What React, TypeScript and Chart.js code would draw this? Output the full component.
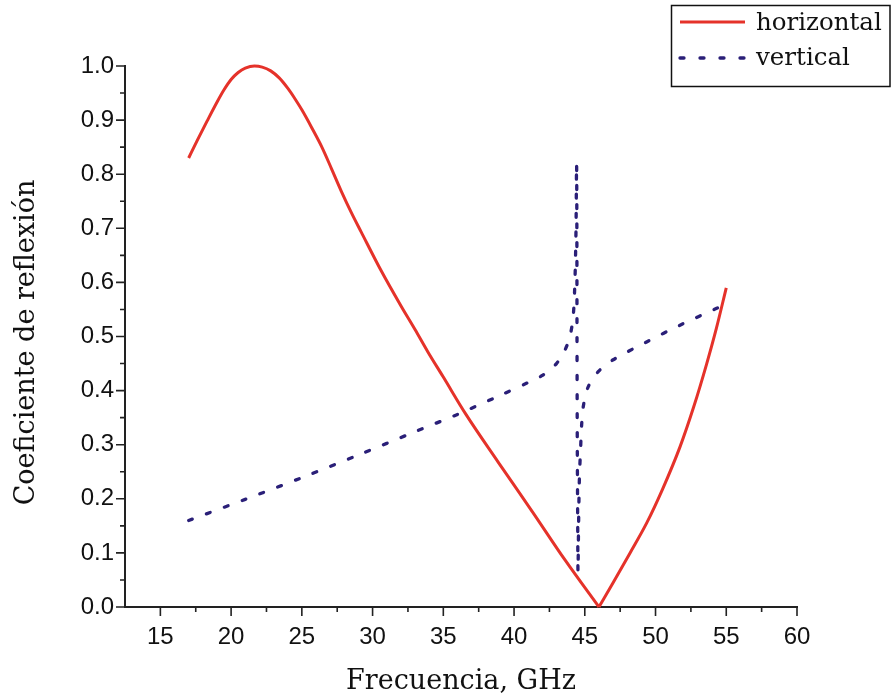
import React, { useEffect, useRef } from "react";
import { Chart, registerables } from "chart.js";

Chart.register(...registerables);

// ---- Data ----
const horizontalFreq = [17, 17.6, 18.3, 19.0, 19.5, 20.0, 20.5, 21.0, 21.65, 22.2, 22.8, 23.4, 24.0, 24.5, 25.0, 25.7, 26.4, 27.1, 27.8, 28.5, 29.2, 30.6, 32.0, 33.0, 33.9, 35.0, 36.6, 38.9, 41.3, 43.6, 46.0, 47.0, 48.2, 49.37, 50.5, 51.73, 52.7, 53.62, 54.3, 55];
const horizontalCoef = [0.83, 0.862, 0.898, 0.933, 0.956, 0.975, 0.988, 0.996, 1.0, 0.998, 0.991, 0.978, 0.959, 0.94, 0.919, 0.886, 0.851, 0.81, 0.768, 0.729, 0.693, 0.622, 0.557, 0.513, 0.472, 0.425, 0.356, 0.267, 0.176, 0.087, 0.0, 0.045, 0.1, 0.155, 0.218, 0.296, 0.37, 0.45, 0.515, 0.59];
const horizontalMinFreq = 46.0; // sharp minimum where the curve turns

const verticalFreq = [17, 21, 25, 29, 33, 36, 39, 41, 42, 43, 43.6, 43.95, 44.18, 44.3, 44.38, 44.42, 44.44, 44.45, 44.47, 44.5, 44.52, 44.56, 44.62, 44.7, 44.77, 44.89, 45.24, 45.95, 47.01, 49.37, 51.73, 54.32, 55];
const verticalCoef = [0.16, 0.199, 0.239, 0.281, 0.324, 0.356, 0.391, 0.415, 0.428, 0.45, 0.475, 0.5, 0.537, 0.6, 0.7, 0.82, 0.7, 0.5, 0.3, 0.15, 0.065, 0.15, 0.24, 0.29, 0.333, 0.37, 0.407, 0.435, 0.457, 0.49, 0.521, 0.552, 0.56];

const xTickValues = [15, 20, 25, 30, 35, 40, 45, 50, 55, 60];
const yTickValues = [0, 0.1, 0.2, 0.3, 0.4, 0.5, 0.6, 0.7, 0.8, 0.9, 1.0];

const seriesNames = ["horizontal", "vertical"];
const xTitle = "Frecuencia, GHz";
const yTitle = "Coeficiente de reflexión";

const RED = "#e5322a";
const BLUE = "#2a1f78";
const SERIF = "'DejaVu Serif', serif";
const SANS = "'Liberation Sans', Arial, sans-serif";

const ticksPlugin = {
  id: "originTicks",
  afterDraw(chart: any) {
    const ctx = chart.ctx;
    const xs = chart.scales.x;
    const ys = chart.scales.y;
    const area = chart.chartArea;
    ctx.save();
    ctx.strokeStyle = "#222";
    ctx.lineWidth = 1.6;
    ctx.beginPath();
    for (let i = 0; i < xTickValues.length; i++) {
      const v = xTickValues[i];
      const px = xs.getPixelForValue(v);
      ctx.moveTo(px, area.bottom);
      ctx.lineTo(px, area.bottom + 9);
      const mv = v + 2.5;
      if (mv < 60) {
        const mp = xs.getPixelForValue(mv);
        ctx.moveTo(mp, area.bottom);
        ctx.lineTo(mp, area.bottom + 5);
      }
    }
    for (let i = 0; i < yTickValues.length; i++) {
      const v = yTickValues[i];
      const py = ys.getPixelForValue(v);
      ctx.moveTo(area.left, py);
      ctx.lineTo(area.left - 9, py);
      const mv = v + 0.05;
      if (mv < 1) {
        const mp = ys.getPixelForValue(mv);
        ctx.moveTo(area.left, mp);
        ctx.lineTo(area.left - 5, mp);
      }
    }
    ctx.stroke();

    // y-axis title
    ctx.save();
    ctx.translate(27, (area.top + area.bottom) / 2 + 6);
    ctx.rotate(-Math.PI / 2);
    ctx.fillStyle = "#111";
    ctx.font = "27px " + SERIF;
    ctx.textAlign = "center";
    ctx.textBaseline = "middle";
    ctx.fillText(yTitle, 0, 0);
    ctx.restore();

    // legend box
    ctx.lineWidth = 1.5;
    ctx.strokeStyle = "#111";
    ctx.strokeRect(671.5, 5.5, 218.5, 81);
    ctx.beginPath();
    ctx.strokeStyle = RED;
    ctx.lineWidth = 3;
    ctx.moveTo(680, 22);
    ctx.lineTo(745, 22);
    ctx.stroke();
    ctx.beginPath();
    ctx.strokeStyle = BLUE;
    ctx.setLineDash([4, 16]);
    ctx.lineCap = "round";
    ctx.lineWidth = 3.3;
    ctx.moveTo(680, 58);
    ctx.lineTo(745, 58);
    ctx.stroke();
    ctx.setLineDash([]);
    ctx.fillStyle = "#111";
    ctx.font = "24.5px " + SERIF;
    ctx.textBaseline = "middle";
    ctx.textAlign = "left";
    ctx.fillText(seriesNames[0], 756, 24);
    ctx.fillText(seriesNames[1], 756, 59);
    ctx.restore();
  },
};

export default function App() {
  const ref = useRef<HTMLCanvasElement | null>(null);
  useEffect(() => {
    if (!ref.current) return;
    const hAll = horizontalFreq.map((x, i) => ({ x, y: horizontalCoef[i] }));
    const hLeft = hAll.filter((p) => p.x <= horizontalMinFreq);
    const hRight = hAll.filter((p) => p.x >= horizontalMinFreq);
    const vData = verticalFreq.map((x, i) => ({ x, y: verticalCoef[i] }));
    const redStyle = {
      borderColor: RED,
      borderWidth: 3,
      pointRadius: 0,
      cubicInterpolationMode: "monotone" as const,
      fill: false,
      clip: false as any,
    };
    const chart = new Chart(ref.current, {
      type: "line",
      data: {
        datasets: [
          { label: seriesNames[0], data: hLeft, ...redStyle },
          { label: seriesNames[0] + " (b)", data: hRight, ...redStyle },
          {
            label: seriesNames[1],
            data: vData,
            borderColor: BLUE,
            borderWidth: 3.3,
            borderDash: [4, 15],
            borderCapStyle: "round",
            pointRadius: 0,
            tension: 0.3,
            fill: false,
            clip: false as any,
          },
        ],
      },
      options: {
        animation: false,
        responsive: true,
        maintainAspectRatio: false,
        layout: { padding: { left: 0, right: 95, top: 66, bottom: 0 } },
        plugins: { legend: { display: false }, tooltip: { enabled: false } },
        scales: {
          x: {
            type: "linear",
            min: 12.5,
            max: 60,
            afterBuildTicks: (s: any) => {
              s.ticks = xTickValues.map((v) => ({ value: v }));
            },
            afterFit: (s: any) => {
              s.height = 88;
            },
            grid: { display: false, drawTicks: false },
            border: { display: true, color: "#222", width: 2 },
            ticks: {
              font: { family: SANS, size: 24 },
              color: "#111",
              padding: 16,
              maxRotation: 0,
              autoSkip: false,
              callback: (v: any) => String(v),
            },
            title: {
              display: true,
              text: xTitle,
              font: { family: SERIF, size: 27 },
              color: "#111",
              padding: { top: 0, bottom: -3 },
            },
          },
          y: {
            type: "linear",
            min: 0,
            max: 1,
            afterBuildTicks: (s: any) => {
              s.ticks = yTickValues.map((v) => ({ value: v }));
            },
            afterFit: (s: any) => {
              s.width = 125;
            },
            grid: { display: false, drawTicks: false },
            border: { display: true, color: "#222", width: 2 },
            ticks: {
              font: { family: SANS, size: 24 },
              color: "#111",
              padding: 11,
              autoSkip: false,
              callback: (v: any) => Number(v).toFixed(1),
            },
            title: { display: false, text: yTitle },
          },
        },
      },
      plugins: [ticksPlugin],
    });
    return () => chart.destroy();
  }, []);
  return (
    <div style={{ position: "fixed", left: 0, top: 0, width: 892, height: 695, background: "#fff" }}>
      <canvas ref={ref} />
    </div>
  );
}
